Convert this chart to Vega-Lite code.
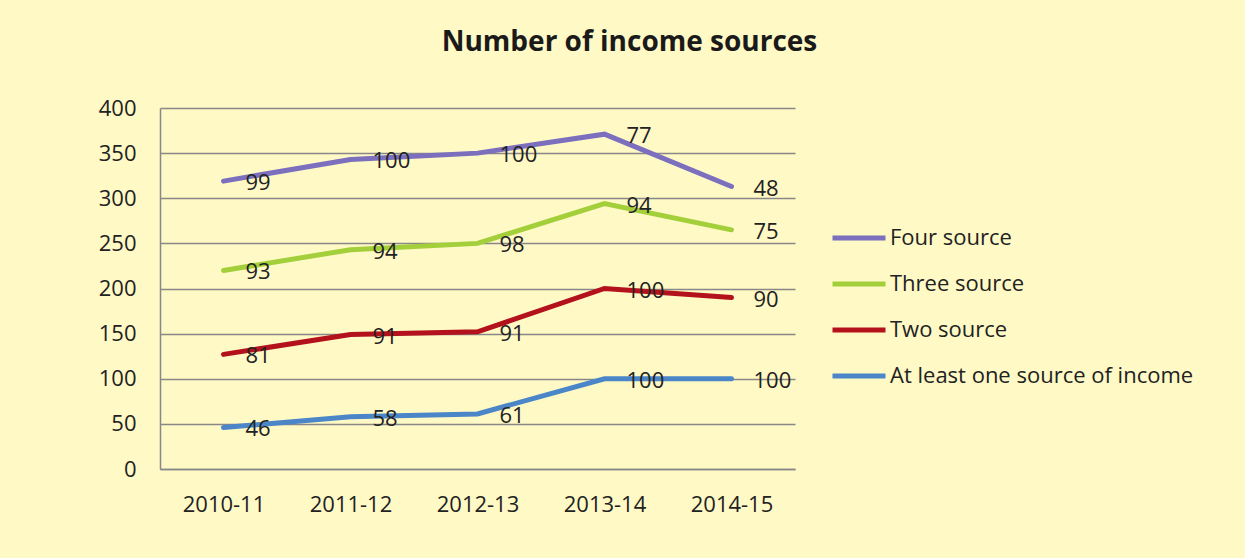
{
  "$schema": "https://vega.github.io/schema/vega-lite/v6.json",
  "autosize": {"type": "none"},
  "width": 635,
  "height": 361,
  "padding": {"left": 160, "top": 108, "right": 450, "bottom": 89},
  "background": "#FFF9C6",
  "title": {
    "text": "Number of income sources",
    "font": "Open Sans",
    "fontSize": 28,
    "fontWeight": "bold",
    "color": "#1a1a1a",
    "anchor": "middle",
    "dx": 152,
    "offset": 40
  },
  "data": {
    "values": [
      {"year": "2010-11", "series": "At least one source of income", "rank": 1, "value": 46},
      {"year": "2011-12", "series": "At least one source of income", "rank": 1, "value": 58},
      {"year": "2012-13", "series": "At least one source of income", "rank": 1, "value": 61},
      {"year": "2013-14", "series": "At least one source of income", "rank": 1, "value": 100},
      {"year": "2014-15", "series": "At least one source of income", "rank": 1, "value": 100},
      {"year": "2010-11", "series": "Two source", "rank": 2, "value": 81},
      {"year": "2011-12", "series": "Two source", "rank": 2, "value": 91},
      {"year": "2012-13", "series": "Two source", "rank": 2, "value": 91},
      {"year": "2013-14", "series": "Two source", "rank": 2, "value": 100},
      {"year": "2014-15", "series": "Two source", "rank": 2, "value": 90},
      {"year": "2010-11", "series": "Three source", "rank": 3, "value": 93},
      {"year": "2011-12", "series": "Three source", "rank": 3, "value": 94},
      {"year": "2012-13", "series": "Three source", "rank": 3, "value": 98},
      {"year": "2013-14", "series": "Three source", "rank": 3, "value": 94},
      {"year": "2014-15", "series": "Three source", "rank": 3, "value": 75},
      {"year": "2010-11", "series": "Four source", "rank": 4, "value": 99},
      {"year": "2011-12", "series": "Four source", "rank": 4, "value": 100},
      {"year": "2012-13", "series": "Four source", "rank": 4, "value": 100},
      {"year": "2013-14", "series": "Four source", "rank": 4, "value": 77},
      {"year": "2014-15", "series": "Four source", "rank": 4, "value": 48}
    ]
  },
  "transform": [
    {"stack": "value", "groupby": ["year"], "sort": [{"field": "rank", "order": "ascending"}], "as": ["y0", "y1"]}
  ],
  "encoding": {
    "x": {
      "field": "year",
      "type": "ordinal",
      "scale": {"type": "point", "padding": 0.5},
      "axis": {
        "title": null,
        "labelAngle": 0,
        "labelFont": "Open Sans",
        "labelFontSize": 22,
        "labelColor": "#222",
        "labelPadding": 25,
        "ticks": false,
        "domainColor": "#888",
        "domainWidth": 1.5,
        "grid": false
      }
    },
    "y": {
      "field": "y1",
      "type": "quantitative",
      "scale": {"domain": [0, 400]},
      "axis": {
        "title": null,
        "values": [0, 50, 100, 150, 200, 250, 300, 350, 400],
        "labelFont": "Open Sans",
        "labelFontSize": 22,
        "labelColor": "#222",
        "labelPadding": 24,
        "ticks": false,
        "domainColor": "#888",
        "domainWidth": 1.5,
        "grid": true,
        "gridColor": "#888",
        "gridWidth": 1.5
      }
    }
  },
  "layer": [
    {
      "mark": {"type": "line", "strokeWidth": 5, "strokeCap": "round"},
      "encoding": {
        "color": {
          "field": "series",
          "type": "nominal",
          "scale": {
            "domain": ["Four source", "Three source", "Two source", "At least one source of income"],
            "range": ["#7B6FBE", "#A3CF3A", "#B3121C", "#4A86C8"]
          },
          "legend": {
            "title": null,
            "orient": "none",
            "legendX": 670,
            "legendY": 101,
            "symbolType": "stroke",
            "symbolSize": 2809,
            "symbolStrokeWidth": 5,
            "labelFont": "Open Sans",
            "labelFontSize": 22,
            "labelColor": "#222",
            "labelOffset": 2,
            "labelLimit": 500,
            "rowPadding": 6
          }
        }
      }
    },
    {
      "mark": {"type": "text", "align": "left", "baseline": "middle", "dx": 22, "dy": 2, "font": "Open Sans", "fontSize": 22, "color": "#222"},
      "encoding": {
        "text": {"field": "value", "type": "quantitative"}
      }
    }
  ],
  "config": {
    "view": {"stroke": null}
  }
}
